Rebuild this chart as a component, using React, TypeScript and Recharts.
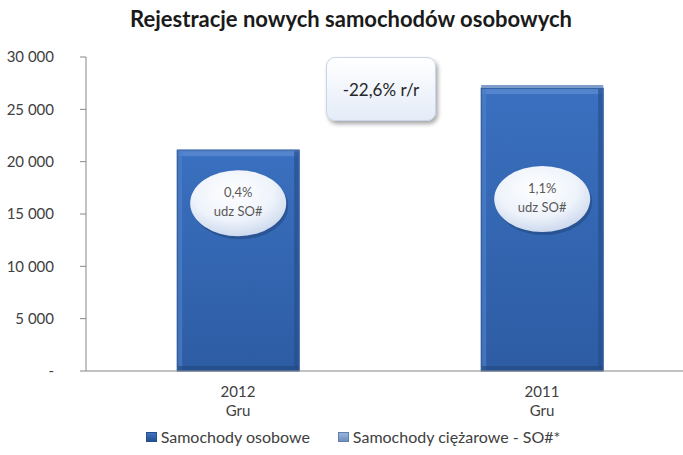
import { BarChart, Bar, XAxis, YAxis, Legend, LabelList } from "recharts";

const categories = ["2012|Gru", "2011|Gru"];
const osobowe = [21100, 27030];
const ciezarowe = [85, 300];
const udzialy = ["0,4%", "1,1%"];
const yTicks = [0, 5000, 10000, 15000, 20000, 25000, 30000];
const zmiana = "-22,6% r/r";

const data = categories.map((c, i) => ({
  name: c,
  osobowe: osobowe[i],
  ciezarowe: ciezarowe[i],
  udzial: udzialy[i],
}));

const FONT = "Lato, 'Open Sans', sans-serif";
// ellipse offset below the bar top, per bar
const bubbleOffset = [53, 111];

const fmt = (v: number) =>
  v === 0 ? "-" : v.toString().replace(/\B(?=(\d{3})+(?!\d))/g, " ");

const BarShape = (props: any) => {
  const { x, y, width, height } = props;
  if (!height || height <= 0) return null;
  return (
    <g>
      <rect x={x} y={y} width={width} height={height} fill="url(#barFill)" stroke="#24508f" strokeWidth={1} />
      <rect x={x + 1} y={y + 1} width={width - 2} height={5} fill="#5a8ad0" opacity={0.8} />
      <rect x={x + 1} y={y + 1} width={4} height={height - 2} fill="#4d7ec7" opacity={0.7} />
      <rect x={x + width - 5} y={y + 1} width={4} height={height - 2} fill="#264f8e" opacity={0.7} />
      <rect x={x + 1} y={y + height - 5} width={width - 2} height={4} fill="#234a85" opacity={0.7} />
    </g>
  );
};

const Bubble = (props: any) => {
  const { x, y, width, index } = props;
  const cx = x + width / 2;
  const cy = y + bubbleOffset[index];
  return (
    <g>
      <ellipse cx={cx + 2} cy={cy + 3} rx={48} ry={33} fill="#1c3d6e" opacity={0.45} />
      <ellipse cx={cx} cy={cy} rx={48} ry={33} fill="url(#bubbleFill)" />
      <text x={cx} y={cy - 6} textAnchor="middle" fontFamily={FONT} fontSize={13} fill="#595959">
        {udzialy[index]}
      </text>
      <text x={cx} y={cy + 13} textAnchor="middle" fontFamily={FONT} fontSize={13} fill="#595959">
        udz SO#
      </text>
    </g>
  );
};

const XTick = (props: any) => {
  const { x, y, payload } = props;
  const [year, month] = String(payload.value).split("|");
  return (
    <g>
      <text x={x} y={y + 18} textAnchor="middle" fontFamily={FONT} fontSize={15} fill="#404040">
        {year}
      </text>
      <text x={x} y={y + 37} textAnchor="middle" fontFamily={FONT} fontSize={15} fill="#404040">
        {month}
      </text>
    </g>
  );
};

const LegendContent = () => (
  <div style={{ display: "flex", justifyContent: "center", gap: 28, fontFamily: FONT, fontSize: 16, color: "#404040", paddingTop: 6, paddingLeft: 12 }}>
    <span style={{ display: "flex", alignItems: "center" }}>
      <span style={{ width: 9, height: 8, background: "linear-gradient(#3f74c2,#24508f)", border: "1px solid #24508f", marginRight: 4 }} />
      Samochody osobowe
    </span>
    <span style={{ display: "flex", alignItems: "center" }}>
      <span style={{ width: 9, height: 8, background: "linear-gradient(#9ab4dc,#6f8fbf)", border: "1px solid #5f7fae", marginRight: 4 }} />
      Samochody ciężarowe - SO#*
    </span>
  </div>
);

export default function App() {
  return (
    <div style={{ position: "absolute", left: 0, top: 0, width: 683, height: 455, overflow: "hidden", background: "#fff" }}>
      <div style={{ position: "absolute", left: 0, top: 5, width: 702, textAlign: "center", fontFamily: FONT, fontWeight: 700, fontSize: 22, color: "#1a1a1a" }}>
        Rejestracje nowych samochodów osobowych
      </div>
      <BarChart width={700} height={455} data={data} margin={{ top: 57, right: 6, left: 0, bottom: 0 }} barCategoryGap="30%">
        <defs>
          <linearGradient id="barFill" x1="0" y1="0" x2="0" y2="1">
            <stop offset="0%" stopColor="#3a70c0" />
            <stop offset="100%" stopColor="#2d5ca3" />
          </linearGradient>
          <radialGradient id="bubbleFill" cx="45%" cy="35%" r="70%">
            <stop offset="0%" stopColor="#ffffff" />
            <stop offset="60%" stopColor="#eef3fb" />
            <stop offset="100%" stopColor="#c6d4ea" />
          </radialGradient>
        </defs>
        <XAxis dataKey="name" height={50} tick={<XTick />} tickLine={false} stroke="#868686" />
        <YAxis
          width={86}
          domain={[0, 30000]}
          ticks={yTicks}
          tickFormatter={fmt}
          tickSize={6}
          tickMargin={26}
          stroke="#868686"
          tick={{ fontFamily: FONT, fontSize: 15, fill: "#404040" }}
        />
        <Legend height={34} verticalAlign="bottom" content={<LegendContent />} />
        <Bar dataKey="osobowe" name="Samochody osobowe" stackId="a" shape={<BarShape />} isAnimationActive={false}>
          <LabelList dataKey="udzial" content={<Bubble />} />
        </Bar>
        <Bar dataKey="ciezarowe" name="Samochody ciężarowe - SO#*" stackId="a" fill="#7f9dcc" isAnimationActive={false} />
      </BarChart>
      <div
        style={{
          position: "absolute",
          left: 326,
          top: 57,
          width: 108,
          height: 62,
          borderRadius: 9,
          background: "linear-gradient(#ffffff, #e4ecf8)",
          border: "1px solid #c9d5e8",
          boxShadow: "2px 3px 4px rgba(0,0,0,0.35)",
          display: "flex",
          alignItems: "center",
          justifyContent: "center",
          fontFamily: FONT,
          fontSize: 17,
          color: "#262626",
        }}
      >
        {zmiana}
      </div>
    </div>
  );
}
